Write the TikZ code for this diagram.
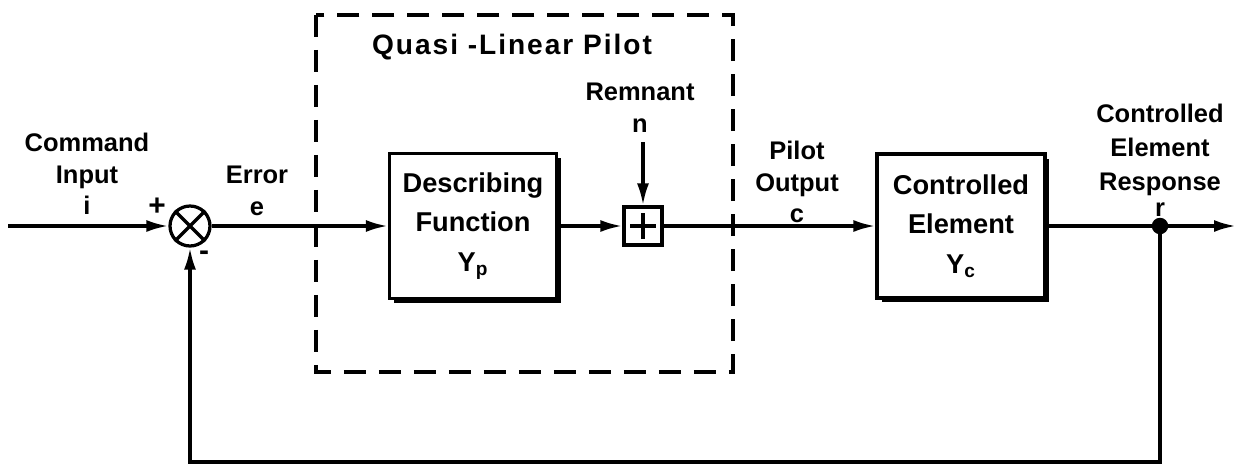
\documentclass[tikz,border=0pt]{standalone}
\usepackage{fontspec}
\setmainfont{Liberation Sans}
\newfontfamily\widefont[LetterSpace=7]{Liberation Sans}
\usetikzlibrary{arrows.meta,shadows}
\begin{document}
\begin{tikzpicture}[x=0.02cm,y=-0.02cm,
  line width=0.065cm,
  arr/.style={-{Latex[length=0.44cm,width=0.24cm]}},
  blk/.style={draw,fill=white,minimum width=3.34cm,minimum height=2.9cm,align=center,
     font=\fontsize{15.5}{22.5}\selectfont\bfseries,
     drop shadow={shadow xshift=0.09cm,shadow yshift=-0.09cm,fill=black,opacity=1}},
  lbl/.style={align=center,font=\fontsize{14.5}{18}\selectfont\bfseries,inner sep=0pt},
  sgn/.style={font=\fontsize{17}{17}\selectfont\bfseries,inner sep=0pt}]
\useasboundingbox (0,0) rectangle (1245,467);
% dashed pilot box
\draw[dash pattern=on 0.44cm off 0.26cm] (316,15) rectangle (733,372);
% nodes
\node[draw,circle,minimum size=0.8cm,inner sep=0pt,fill=white] (s) at (190,226) {};
\draw (s.north west) -- (s.south east) (s.north east) -- (s.south west);
\node[blk] (df) at (473,226) {Describing\\Function\\Y\textsubscript{p}};
\node[draw,minimum size=0.76cm,inner sep=0pt,fill=white] (pl) at (643,226) {};
\draw ([yshift=-0.26cm]pl.center) -- ([yshift=0.26cm]pl.center)
      ([xshift=-0.26cm]pl.center) -- ([xshift=0.26cm]pl.center);
\node[blk,minimum width=3.36cm,minimum height=2.88cm] (ce) at (961,226) {Controlled\\Element\\Y\textsubscript{c}};
\coordinate (in) at (8,226);
\coordinate (dot) at (1160,226);
\coordinate (out) at (1236,226);
\coordinate (rn) at (643,142);
\coordinate (fbr) at (1160,462);
\coordinate (fbl) at (190,462);
\fill (dot) circle (0.165cm);
% connectors
\draw[arr] (in) -- (s.west);
\draw[arr] (s.east) -- (df.west);
\draw[arr] (df.east) -- (pl.west);
\draw[arr] (rn) -- (pl.north);
\draw[arr] (pl.east) -- (ce.west);
\draw[arr] (ce.east) -- (out);
\draw[arr] (dot) -- (fbr) -- (fbl) -- (s.south);
% labels
\node[lbl] (lcmd) at (87,174) {Command\\Input\\i};
\node[sgn] (lplus) at (157,207) {+};
\node[sgn] (lminus) at (204,256) {-};
\node[lbl] (lerr) at (257,191) {Error\\e};
\node[lbl,font=\fontsize{16}{18}\selectfont\bfseries\widefont] (lq) at (512,47) {Quasi -Linear Pilot};
\node[lbl] (lrem) at (640,108) {Remnant\\n};
\node[lbl] (lpo) at (797,182) {Pilot\\Output\\c};
\node[lbl,font=\fontsize{14.5}{19.5}\selectfont\bfseries] (lcer) at (1160,160) {Controlled\\Element\\Response\\[-5pt]r};
\end{tikzpicture}
\end{document}
